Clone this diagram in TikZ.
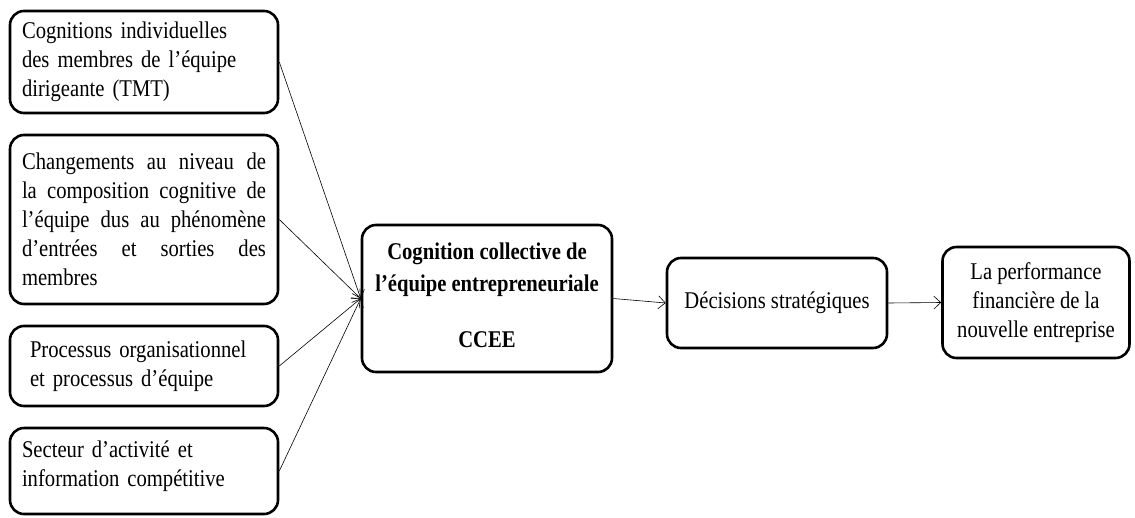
\documentclass[tikz,border=0pt]{standalone}
\usepackage{fontspec}
\setmainfont{Liberation Serif}[FakeStretch=0.86]
\usetikzlibrary{arrows.meta}
\begin{document}
\begin{tikzpicture}[x=1pt,y=-1pt,
  box/.style={draw, line width=2.6pt, rounded corners=14pt, inner sep=0pt, font=\fontsize{24}{29}\selectfont},
  conn/.style={-{Straight Barb[length=7pt,width=13pt]}, line width=0.6pt}]
\useasboundingbox (0,0) rectangle (1135,517);
\node[box, minimum width=268pt, minimum height=102pt, text width=244pt, align=left] (b1) at (144,62)
  {Cognitions individuelles\\des membres de l'équipe\\dirigeante (TMT)};
\node[box, minimum width=268pt, minimum height=169pt, text width=244pt, align=justify] (b2) at (144,219.5)
  {\rightskip=11pt\hyphenpenalty=10000 Changements au niveau de la composition cognitive de l'équipe dus au phénomène d'entrées et sorties des\linebreak membres};
\node[box, minimum width=268pt, minimum height=80pt, text width=244pt, align=left] (b3) at (144,366)
  {\hspace*{8pt}Processus organisationnel\\\hspace*{8pt}et processus d'équipe};
\node[box, minimum width=268pt, minimum height=86pt, text width=244pt, align=left] (b4) at (144,471)
  {Secteur d'activité et\\information compétitive\\[-14pt]\mbox{}};
\node[box, minimum width=250pt, minimum height=147pt, align=center, font=\fontsize{24}{32}\selectfont\bfseries] (c) at (487,298.5)
  {\mbox{}\\[-22pt]Cognition collective de\\l'équipe entrepreneuriale\\[24pt]CCEE};
\node[box, minimum width=220pt, minimum height=90pt, align=center] (d) at (777,303)
  {Décisions stratégiques};
\node[box, minimum width=187pt, minimum height=111pt, align=center] (p) at (1036,302.5)
  {La performance\\financière de la\\nouvelle entreprise};
\draw[conn] (b1.east) -- (c.west);
\draw[conn] (b2.east) -- (c.west);
\draw[conn] (b3.east) -- (c.west);
\draw[conn] (b4.east) -- (c.west);
\draw[conn] (c.east) -- (d.west);
\draw[conn] (d.east) -- (p.west);
\end{tikzpicture}
\end{document}
